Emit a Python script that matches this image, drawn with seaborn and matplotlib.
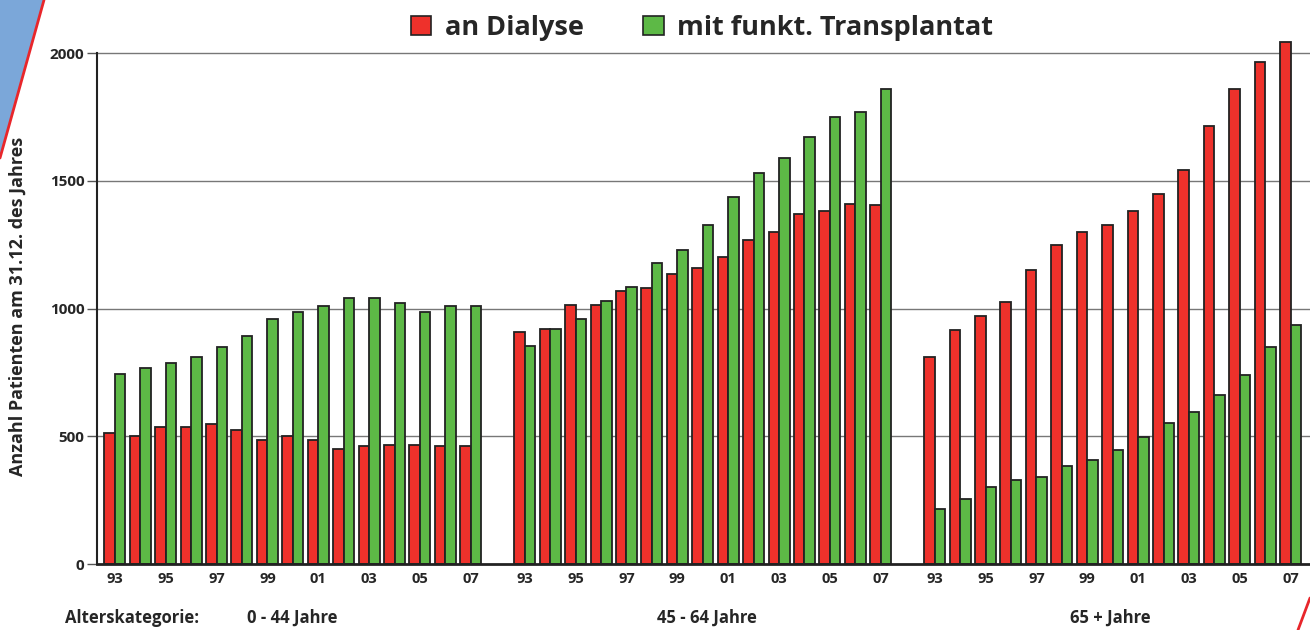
import numpy as np
import pandas as pd
import matplotlib
matplotlib.use('Agg')
import matplotlib.pyplot as plt
from matplotlib.patches import Polygon, Patch
from matplotlib.lines import Line2D
import seaborn as sns

# Jahre (Beschriftung nur jedes zweite Jahr)
years = ['93', '94', '95', '96', '97', '98', '99', '00', '01', '02', '03', '04', '05', '06', '07']
groups = ['0 - 44 Jahre', '45 - 64 Jahre', '65 + Jahre']
series = ['an Dialyse', 'mit funkt. Transplantat']

# 0 - 44 Jahre
dialyse_0_44 = [512, 500, 536, 536, 549, 524, 485, 500, 485, 450, 460, 467, 467, 460, 460]
transpl_0_44 = [745, 768, 785, 810, 850, 892, 958, 985, 1011, 1040, 1040, 1023, 985, 1011, 1011]
# 45 - 64 Jahre
dialyse_45_64 = [907, 919, 1015, 1013, 1069, 1081, 1136, 1160, 1202, 1269, 1298, 1370, 1382, 1411, 1407]
transpl_45_64 = [852, 919, 960, 1031, 1085, 1177, 1231, 1328, 1437, 1532, 1591, 1671, 1751, 1769, 1859]
# 65 + Jahre
dialyse_65 = [810, 914, 971, 1024, 1151, 1248, 1301, 1327, 1380, 1450, 1543, 1716, 1859, 1964, 2043]
transpl_65 = [216, 255, 303, 330, 341, 384, 408, 447, 499, 553, 594, 660, 739, 851, 934]

red = '#EE312B'
green = '#5DB946'
group_step = 16.12  # 15 Jahre + Luecke

rows = []
for g, (d, t) in enumerate([(dialyse_0_44, transpl_0_44),
                            (dialyse_45_64, transpl_45_64),
                            (dialyse_65, transpl_65)]):
    for i in range(len(years)):
        pos = g * group_step + i
        rows.append({'pos': pos, 'serie': series[0], 'wert': d[i]})
        rows.append({'pos': pos, 'serie': series[1], 'wert': t[i]})
df = pd.DataFrame(rows)

sns.set_style('white')
plt.rcParams['font.family'] = ['Open Sans', 'DejaVu Sans']
plt.rcParams['font.weight'] = 'bold'

fig = plt.figure(figsize=(13.1, 6.3), dpi=100)
ax = fig.add_axes([97 / 1310, 1 - 564 / 630, 1 - 97 / 1310, (564 - 27.5) / 630])

sns.barplot(data=df, x='pos', y='wert', hue='serie', native_scale=True,
            palette=[red, green], width=0.826, edgecolor='#222222',
            linewidth=1.3, saturation=1, legend=False, ax=ax)

ax.set_ylim(0, 2100)
ax.set_xlim(-0.70, 47.0)
ax.set_yticks([0, 500, 1000, 1500, 2000])
ax.set_yticklabels(['0', '500', '1000', '1500', '2000'], fontsize=11, fontweight='bold')
xt = [g * group_step + i for g in range(3) for i in range(0, 15, 2)]
ax.set_xticks(xt)
ax.set_xticklabels([years[i] for g in range(3) for i in range(0, 15, 2)],
                   fontsize=10.5, fontweight='bold')
ax.tick_params(axis='x', length=0, pad=6)
ax.tick_params(axis='y', length=7, width=1, color='#555555', pad=2, left=True)
ax.set_xlabel('')
ax.set_ylabel('')

for y in [500, 1000, 1500, 2000]:
    ax.axhline(y, color='#777777', lw=1, zorder=0)

for s in ['top', 'right']:
    ax.spines[s].set_visible(False)
ax.spines['left'].set_bounds(0, 2000)
ax.spines['left'].set_color('#222222')
ax.spines['left'].set_linewidth(1.5)
ax.spines['bottom'].set_color('#222222')
ax.spines['bottom'].set_linewidth(2)

# Legende oben
handles = [Patch(facecolor=red, edgecolor='#222222', lw=1.2),
           Patch(facecolor=green, edgecolor='#222222', lw=1.2)]
fig.legend(handles, series, loc='center', bbox_to_anchor=(0.536, 1 - 28 / 630),
           ncol=2, frameon=False, prop={'size': 19.5, 'weight': 'bold'},
           handlelength=0.75, handleheight=0.75, handletextpad=0.5, columnspacing=2.2)

# Beschriftungen unten und links
fy = 1 - 618 / 630
fs = 12
fig.text(65 / 1310, fy, 'Alterskategorie:', fontsize=fs, fontweight='bold', va='center')
fig.text(247 / 1310, fy, groups[0], fontsize=fs, fontweight='bold', va='center')
fig.text(657 / 1310, fy, groups[1], fontsize=fs, fontweight='bold', va='center')
fig.text(1070 / 1310, fy, groups[2], fontsize=fs, fontweight='bold', va='center')
fig.text(18 / 1310, 1 - 306 / 630, 'Anzahl Patienten am 31.12. des Jahres', rotation=90,
         fontsize=13, fontweight='bold', ha='center', va='center')

# Deko-Ecken
tri = Polygon([(0, 1), (44 / 1310, 1), (0, 1 - 158 / 630)], closed=True,
              transform=fig.transFigure, facecolor='#7BA7D9', edgecolor='none')
fig.patches.append(tri)
fig.lines.append(Line2D([44 / 1310, 0], [1, 1 - 158 / 630], transform=fig.transFigure,
                        color='#E8262B', lw=2))
fig.lines.append(Line2D([1310 / 1310, 1298 / 1310], [1 - 598 / 630, 0],
                        transform=fig.transFigure, color='#E8262B', lw=2))

fig.savefig('out.png', dpi=100)
